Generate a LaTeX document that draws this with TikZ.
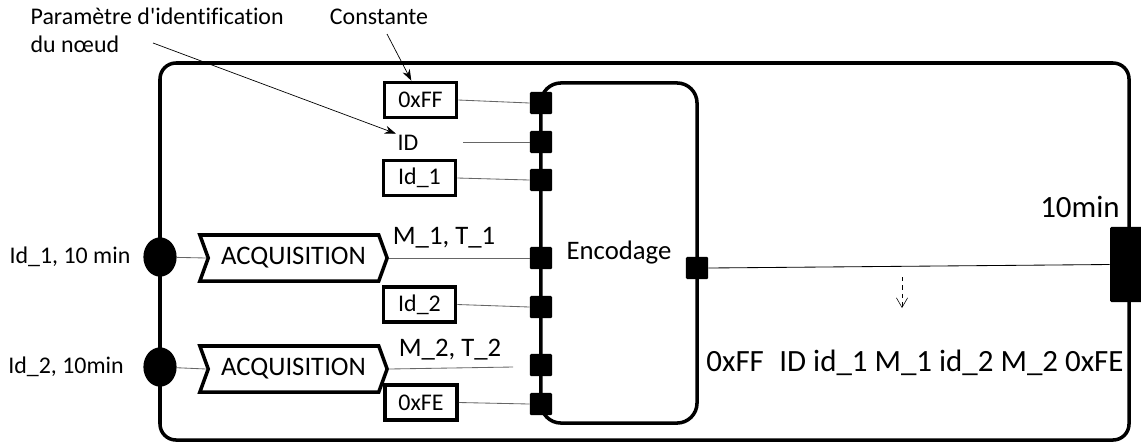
\documentclass[tikz,border=0pt]{standalone}
\usepackage{fontspec}
\setmainfont{Carlito}[Ligatures={NoCommon}]
\usetikzlibrary{arrows.meta,positioning,shapes.geometric,shapes.symbols}
\tikzset{
  frame/.style={draw,line width=2.5pt,rounded corners=0.4cm},
  cst/.style={draw,line width=2.5pt,minimum width=1.8cm,minimum height=0.88cm,inner sep=1pt,font=\fontsize{17}{20}\selectfont},
  port/.style={fill=black,rounded corners=1pt,minimum size=0.56cm,inner sep=0pt},
  acq/.style={draw,line width=2.5pt,signal,signal from=west,signal to=east,signal pointer angle=140,
              minimum width=4.68cm,minimum height=1.15cm,inner sep=1pt,font=\fontsize{19}{22}\selectfont},
  src/.style={ellipse,fill=black,minimum width=0.83cm,minimum height=0.98cm,inner sep=0pt},
  wire/.style={draw=black!60,line width=0.6pt},
  note/.style={-{Stealth[length=2.8mm,width=2mm]},line width=0.5pt},
  txt/.style={font=\fontsize{17}{20}\selectfont,inner sep=1pt},
  big/.style={font=\fontsize{22}{25}\selectfont,inner sep=1pt},
}
\begin{document}
\begin{tikzpicture}[x=0.025cm,y=-0.025cm]
  \useasboundingbox (0,0) rectangle (1141,443);
  \draw[frame] (160,63) rectangle (1129,440);
  \node[draw,line width=2.5pt,rounded corners=0.5cm,minimum width=3.9cm,minimum height=8.5cm,
        font=\fontsize{19}{22}\selectfont] (enc) at (619,253) {Encodage};
  \foreach \y/\n in {103/pff,142/pid,180/pida,258/pma,307/pidb,365/pmb,404/pfe}{ \node[port] (\n) at (541,\y) {}; }
  \node[port] (out) at (697,268) {};
  \node[fill=black,rounded corners=1pt,minimum width=0.95cm,minimum height=1.88cm,inner sep=0pt] (bar) at (1129,264.5) {};
  \node[cst] (cff)  at (420.5,100) {0xFF};
  \node[txt] (idt)  at (408,143)   {ID};
  \node[cst] (cida) at (419.5,178) {Id\_1};
  \node[cst] (cidb) at (419.5,304.5) {Id\_2};
  \node[cst] (cfe)  at (421,402.5) {0xFE};
  \node[acq] (acqa) at (293.5,258) {ACQUISITION};
  \node[acq] (acqb) at (293.5,369) {ACQUISITION};
  \node[src] (sa) at (160,257) {};
  \node[src] (sb) at (160,367) {};
  \node[txt] (la) at (70,257) {Id\_1, 10 min};
  \node[txt] (lb) at (66,367) {Id\_2, 10min};
  \node[txt,font=\fontsize{19}{22}\selectfont] (ma) at (444,238) {M\_1, T\_1};
  \node[txt,font=\fontsize{19}{22}\selectfont] (mb) at (450,350) {M\_2, T\_2};
  \node[big] (per) at (1080,207) {10min};
  \node[big] (frm) at (915,363) {0xFF\enspace ID id\_1 M\_1 id\_2 M\_2 0xFE};
  \node[txt,align=left,anchor=north west] (par) at (29,6) {Paramètre d\textquotesingle identification\\du nœud};
  \node[txt] (cstl) at (379,17) {Constante};
  \coordinate (idl) at (463,142);
  \coordinate (mbend) at (513,367);
  \coordinate (parend) at (153,43);
  \coordinate (cstend) at (387,34);
  \coordinate (dsa) at (902,277);
  \coordinate (dsb) at (902,308);
  \draw[wire] (sa) -- (acqa.west);
  \draw[wire] (sb) -- (acqb.west);
  \draw[wire] (acqa.east) -- (pma.west);
  \draw[wire] (acqb.east) -- (mbend);
  \draw[wire] (cff.east) -- (pff.west);
  \draw[wire] (idl) -- (pid.west);
  \draw[wire] (cida.east) -- (pida.west);
  \draw[wire] (cidb.east) -- (pidb.west);
  \draw[wire] (cfe.east) -- (pfe.west);
  \draw[line width=0.6pt] (out.east) -- (bar.west);
  \draw[note] (parend) -- (idt.north west);
  \draw[note] (cstend) -- ([xshift=-0.23cm]cff.north);
  \draw[dashed,line width=0.4pt,-{Straight Barb[length=2.4mm,width=2.8mm]}] (dsa) -- (dsb);
\end{tikzpicture}
\end{document}
